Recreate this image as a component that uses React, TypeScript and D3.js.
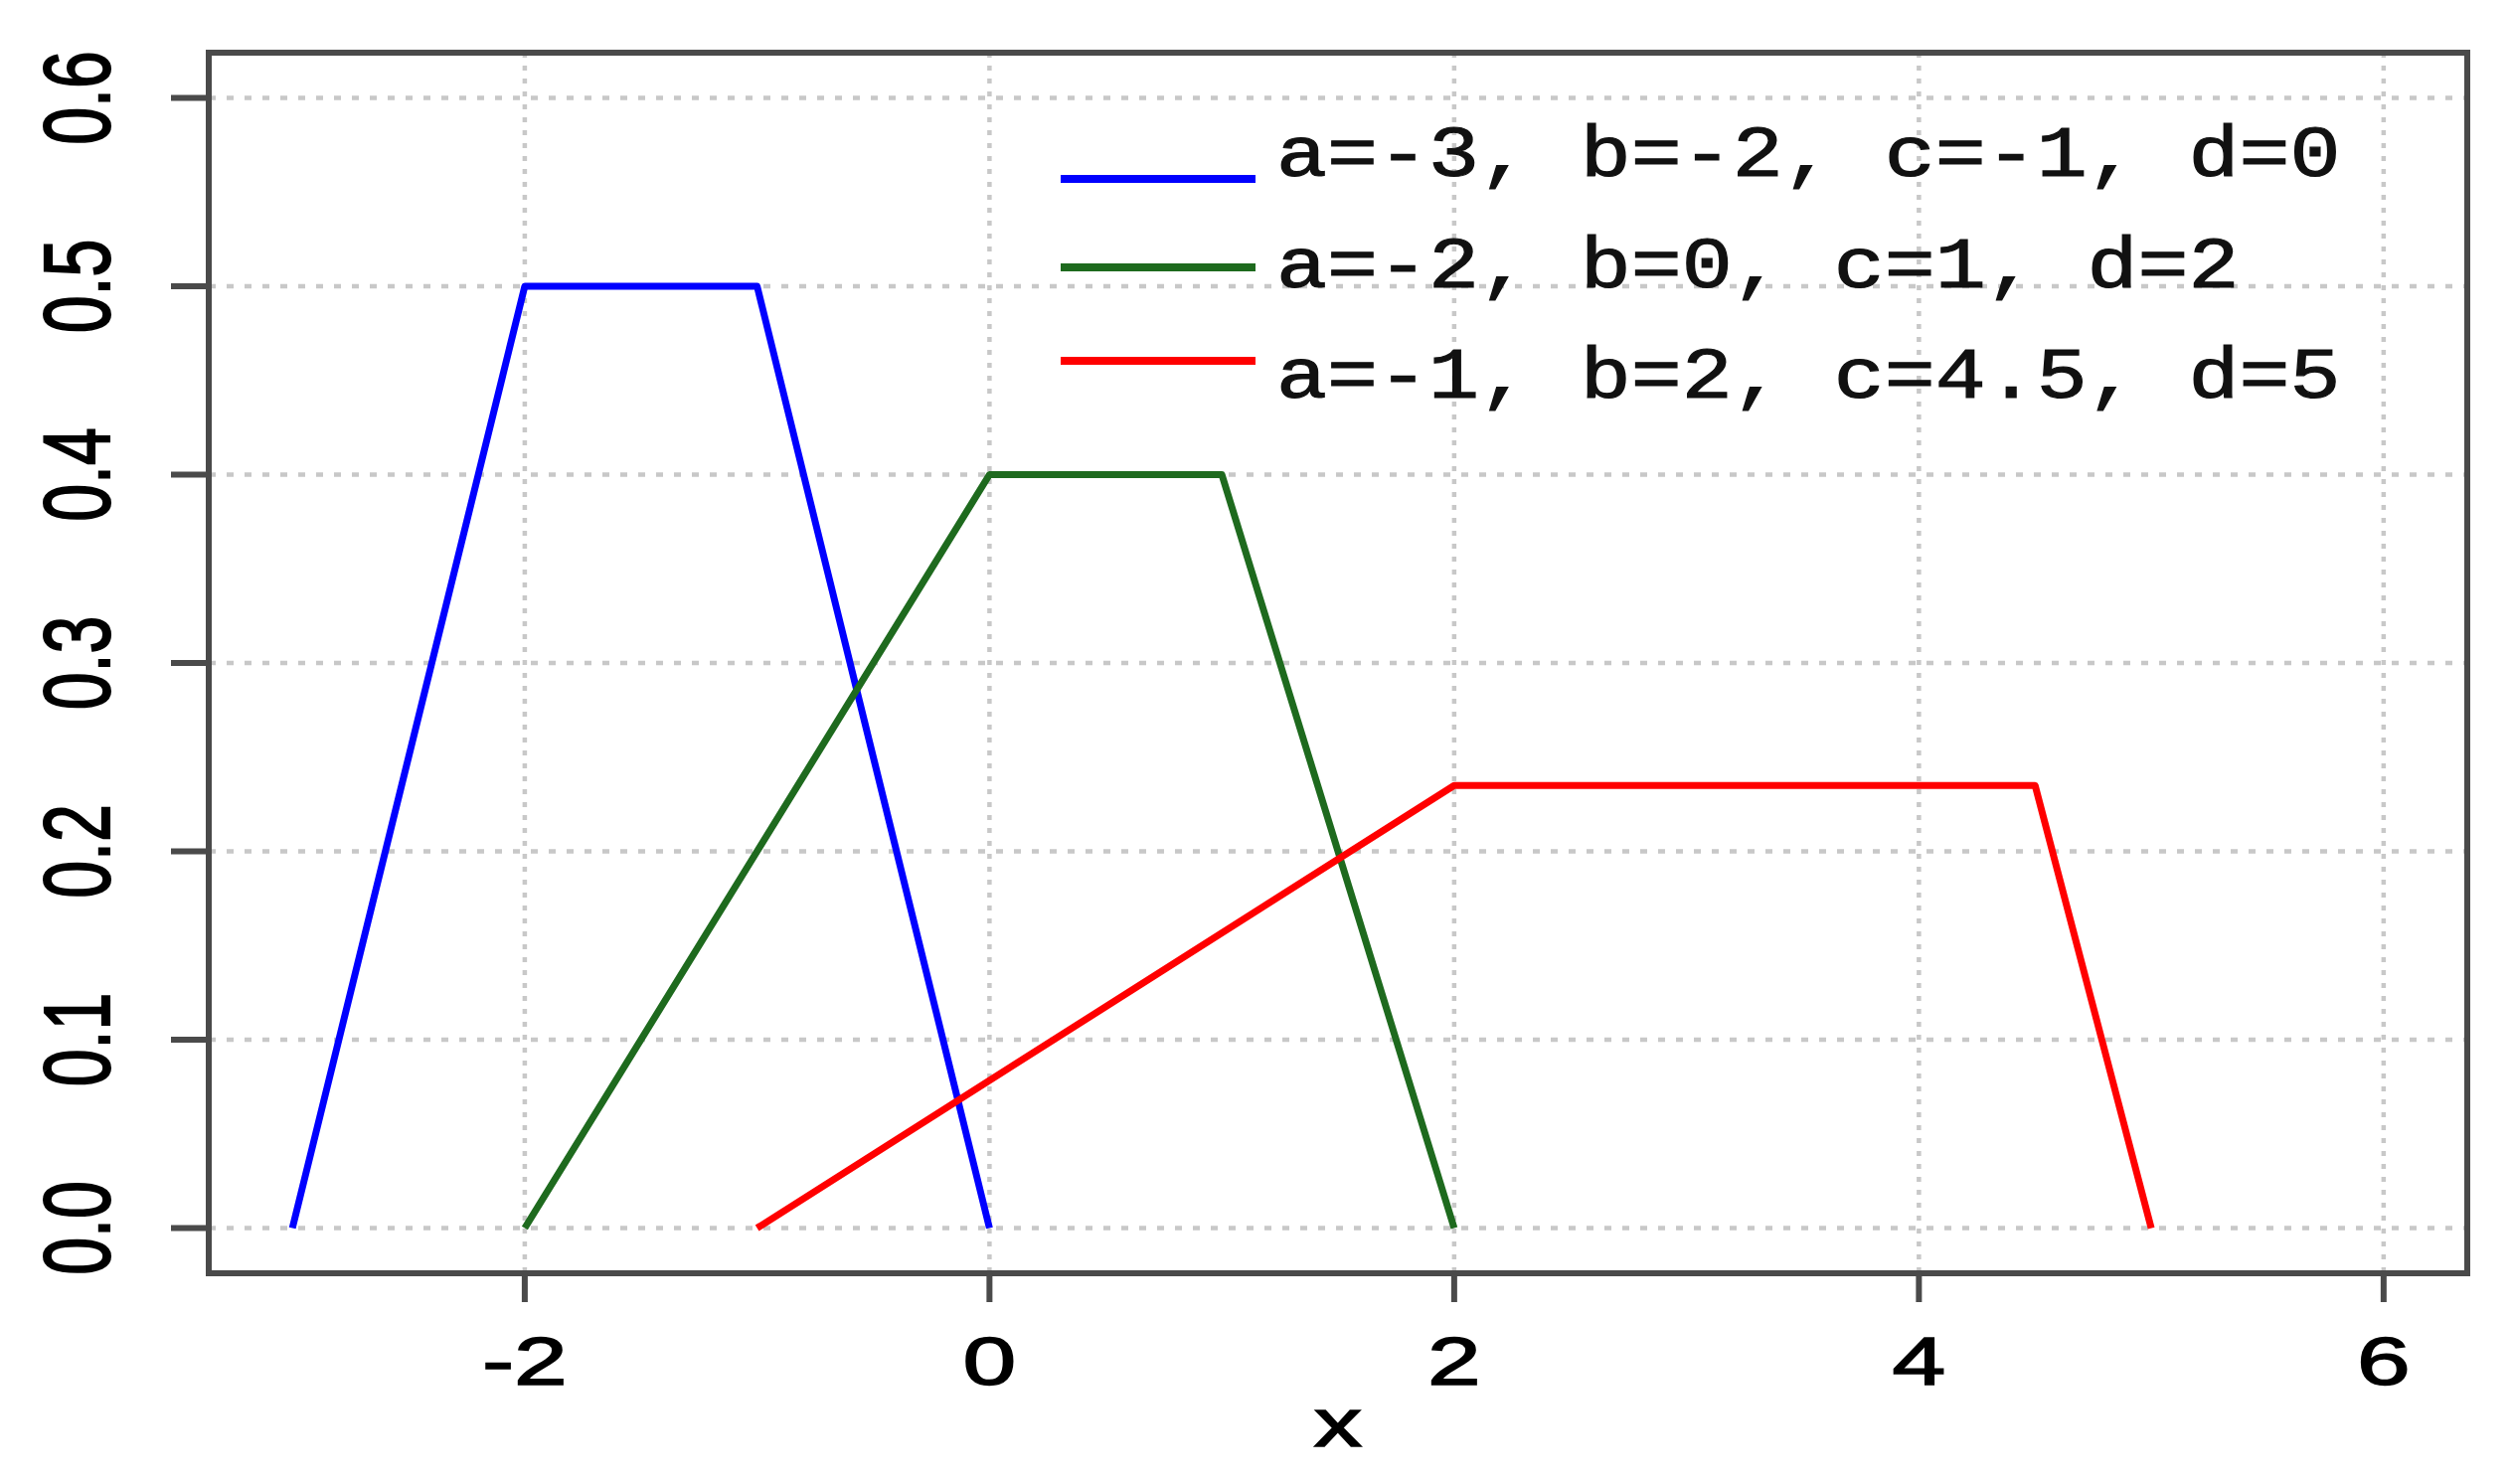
import React from 'react';
import * as d3 from 'd3';

// trapezoid densities: x knots and heights
const blueX = [-3, -2, -1, 0];
const blueY = [0, 0.5, 0.5, 0];
const greenX = [-2, 0, 1, 2];
const greenY = [0, 0.4, 0.4, 0];
const redX = [-1, 2, 4.5, 5];
const redY = [0, 0.235, 0.235, 0];

const seriesLabels = ['a=-3, b=-2, c=-1, d=0', 'a=-2, b=0, c=1, d=2', 'a=-1, b=2, c=4.5, d=5'];
const seriesColors = ['#0000ff', '#1e6a1e', '#ff0000'];

const xTicks = [-2, 0, 2, 4, 6];
const yTicks = [0, 0.1, 0.2, 0.3, 0.4, 0.5, 0.6];
const yTickLabels = ['0.0', '0.1', '0.2', '0.3', '0.4', '0.5', '0.6'];

const W = 2527;
const H = 1493;
const box = { left: 210, right: 2482, top: 53, bottom: 1281 };
const SX = 1.4; // the picture is stretched sideways
const axisFont = '"Liberation Sans", Arial, sans-serif';
const monoFont = '"Liberation Mono", "Courier New", monospace';

export default function App() {
  // R style 4% padding around xlim c(-3,6) and ylim c(0,0.6)
  const x = d3.scaleLinear().domain([-3.36, 6.36]).range([box.left, box.right]);
  const y = d3.scaleLinear().domain([-0.024, 0.624]).range([box.bottom, box.top]);

  const line = d3.line<[number, number]>().x(d => x(d[0])).y(d => y(d[1]));
  const series = [
    d3.zip(blueX, blueY) as [number, number][],
    d3.zip(greenX, greenY) as [number, number][],
    d3.zip(redX, redY) as [number, number][],
  ];

  const gridColor = '#c8c8c8';
  const axisColor = '#4a4a4a';

  return (
    <svg width={W} height={H} style={{ position: 'absolute', left: 0, top: 0, background: '#fff' }}>
      {/* grid */}
      <g>
        {xTicks.map(t => (
          <line key={'gx' + t} x1={x(t)} x2={x(t)} y1={box.top} y2={box.bottom}
            stroke={gridColor} strokeWidth={4.5} strokeDasharray="5,8" />
        ))}
        {yTicks.map(t => (
          <line key={'gy' + t} x1={box.left} x2={box.right} y1={y(t)} y2={y(t)}
            stroke={gridColor} strokeWidth={4.5} strokeDasharray="7,11" />
        ))}
      </g>

      {/* curves */}
      {series.map((s, i) => (
        <path key={i} d={line(s) || ''} fill="none" stroke={seriesColors[i]} strokeWidth={7} strokeLinejoin="round" />
      ))}

      {/* box */}
      <rect x={box.left} y={box.top} width={box.right - box.left} height={box.bottom - box.top}
        fill="none" stroke={axisColor} strokeWidth={6} />

      {/* x axis */}
      {xTicks.map(t => (
        <g key={'xt' + t}>
          <line x1={x(t)} x2={x(t)} y1={box.bottom} y2={box.bottom + 29} stroke={axisColor} strokeWidth={6} />
          <text transform={`translate(${x(t)},1393) scale(${SX},1)`} textAnchor="middle"
            fontFamily={axisFont} fontSize={69} fill="#000" stroke="#000" strokeWidth={1.5}>{t}</text>
        </g>
      ))}
      <text transform={`translate(${(box.left + box.right) / 2},1455) scale(${SX},1)`} textAnchor="middle"
        fontFamily={axisFont} fontSize={69} fill="#000" stroke="#000" strokeWidth={1.5}>x</text>

      {/* y axis */}
      {yTicks.map((t, i) => (
        <g key={'yt' + t}>
          <line x1={box.left - 38} x2={box.left} y1={y(t)} y2={y(t)} stroke={axisColor} strokeWidth={6} />
          <text transform={`translate(110,${y(t)}) scale(${SX},1) rotate(-90)`} textAnchor="middle"
            fontFamily={axisFont} fontSize={68} fill="#000" stroke="#000" strokeWidth={1.5}>{yTickLabels[i]}</text>
        </g>
      ))}

      {/* legend */}
      {seriesLabels.map((lab, i) => (
        <g key={'lg' + i}>
          <line x1={1067} x2={1263} y1={[180, 269, 363][i]} y2={[180, 269, 363][i]}
            stroke={seriesColors[i]} strokeWidth={8} />
          <text transform={`translate(1284,${177 + i * 111.5}) scale(1.18,1)`}
            fontFamily={monoFont} fontSize={72} fill="#111" stroke="#111" strokeWidth={1.2}>{lab}</text>
        </g>
      ))}
    </svg>
  );
}
